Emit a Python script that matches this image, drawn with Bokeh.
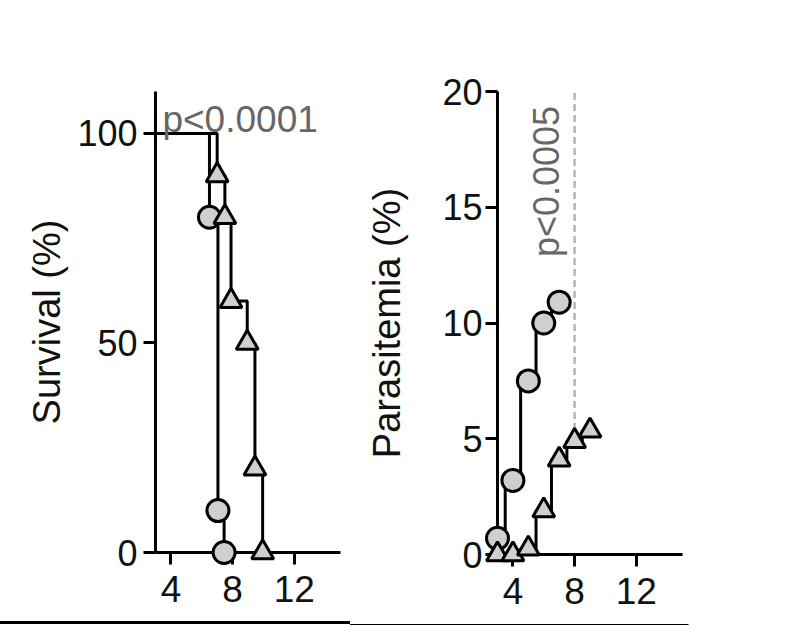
import math
from bokeh.plotting import figure
from bokeh.layouts import row
from bokeh.models import FixedTicker, Label, Range1d
from bokeh.embed import file_html
from bokeh.resources import INLINE

# ---------------- data ----------------
day_ticks = [4, 8, 12]
day_min, day_max = 3, 15
surv_ticks = [0, 50, 100]
surv_max = 110
para_ticks = [0, 5, 10, 15, 20]

surv_start_day = 0
surv_start = 100
surv_circle_days = [6.5, 7.05, 7.45]
surv_circle = [80, 10, 0]
surv_tri_days = [7.0, 7.5, 7.9, 8.95, 9.45, 9.95]
surv_tri = [90, 80, 60, 50, 20, 0]

para_circle_days = [3, 4, 5, 6, 7]
para_circle = [0.7, 3.2, 7.5, 10.0, 10.9]
para_tri_days = [3, 4, 5, 6, 7, 8, 9]
para_tri = [0.0, 0.0, 0.25, 1.9, 4.1, 4.9, 5.35]

surv_p_text = "p<0.0001"
surv_p_pos = (3.45, 103.4)
para_p_text = "p<0.0005"
para_p_pos = (6.15, 12.85)
para_p_day = 8

surv_label = "Survival (%)"
para_label = "Parasitemia (%)"

# ---------------- layout / style constants ----------------
FONT = "Liberation Sans"
FILL = "#cfcfcf"
INK = "#111111"
FRAME_W = 185
BOTTOM = 73
RULE_Y = 622.0      # page pixel row of the horizontal rule
RULE_END = 688      # page pixel where the rule ends

L_LEFT, L_RIGHT, L_TOP, L_FH = 155, 10, 91, 461
R_LEFT, R_RIGHT, R_TOP, R_FH = 147, 15, 89, 463
L_W = L_LEFT + FRAME_W + L_RIGHT
R_W = R_LEFT + FRAME_W + R_RIGHT


def style(p, ylab, yticks, y_standoff, label_standoff):
    p.xgrid.visible = False
    p.ygrid.visible = False
    p.outline_line_color = None
    for ax in p.axis:
        ax.axis_line_width = 3
        ax.axis_line_color = "black"
        ax.major_tick_line_width = 3
        ax.major_tick_line_color = "black"
        ax.major_tick_out = 12
        ax.major_tick_in = 0
        ax.minor_tick_line_color = None
        ax.major_label_text_font = FONT
        ax.major_label_text_font_size = "36px"
        ax.major_label_text_color = INK
        ax.axis_label_text_font = FONT
        ax.axis_label_text_font_size = "38px"
        ax.axis_label_text_font_style = "normal"
        ax.axis_label_text_color = INK
    p.xaxis.ticker = FixedTicker(ticks=day_ticks)
    p.xaxis.major_label_standoff = 11
    p.xaxis.major_label_text_font_size = "37px"
    p.yaxis.ticker = FixedTicker(ticks=yticks)
    p.yaxis.major_label_standoff = y_standoff
    p.yaxis.axis_label = ylab
    p.yaxis.axis_label_standoff = label_standoff


def add_rule(p, left, top, fh, y0, y1, page_x0, page_x1, nudge=0.0):
    # horizontal separator drawn below the axes (overlay level is not clipped)
    kx = FRAME_W / (day_max - day_min)
    ky = fh / (y1 - y0)
    xa = day_min + (page_x0 - left) / kx
    xb = day_min + (page_x1 - left) / kx
    yr = y0 - (RULE_Y + nudge - (top + fh)) / ky
    p.segment(x0=[xa], y0=[yr], x1=[xb], y1=[yr], line_color="black",
              line_width=3, level="overlay")


# ---------------- survival panel ----------------
pL = figure(width=L_W, height=L_TOP + L_FH + BOTTOM, frame_width=FRAME_W, frame_height=L_FH,
            min_border_left=L_LEFT, min_border_right=L_RIGHT,
            min_border_top=L_TOP, min_border_bottom=BOTTOM,
            x_range=Range1d(day_min, day_max), y_range=Range1d(0, surv_max),
            output_backend="svg", toolbar_location=None,
            background_fill_color="white", border_fill_color="white")
style(pL, surv_label, surv_ticks, 6, 6)

pL.step([surv_start_day] + surv_circle_days, [surv_start] + surv_circle,
        mode="after", line_width=3, line_color="black")
pL.step([surv_start_day] + surv_tri_days, [surv_start] + surv_tri,
        mode="after", line_width=3, line_color="black")
pL.scatter(surv_circle_days, surv_circle, marker="circle", size=22,
           fill_color=FILL, line_color="black", line_width=3, level="overlay")
pL.scatter(surv_tri_days, surv_tri, marker="triangle", size=22,
           fill_color=FILL, line_color="black", line_width=3, level="overlay")
pL.add_layout(Label(x=surv_p_pos[0], y=surv_p_pos[1], text=surv_p_text,
                    text_font=FONT, text_font_size="37px", text_color="#666666",
                    text_align="left", text_baseline="alphabetic"))
add_rule(pL, L_LEFT, L_TOP, L_FH, 0, surv_max, -2, L_W + 2)

# ---------------- parasitemia panel ----------------
pR = figure(width=R_W, height=R_TOP + R_FH + BOTTOM, frame_width=FRAME_W, frame_height=R_FH,
            min_border_left=R_LEFT, min_border_right=R_RIGHT,
            min_border_top=R_TOP, min_border_bottom=BOTTOM,
            x_range=Range1d(day_min, day_max), y_range=Range1d(para_ticks[0], para_ticks[-1]),
            output_backend="svg", toolbar_location=None,
            background_fill_color="white", border_fill_color="white")
style(pR, para_label, para_ticks, 3, 31)

p_y0 = para_tri[para_tri_days.index(para_p_day)]
pR.segment(x0=[para_p_day], y0=[p_y0], x1=[para_p_day], y1=[para_ticks[-1]],
           line_color="#b5b5b5", line_width=2.5, line_dash="7 4")
pR.step(para_circle_days, para_circle, mode="center", line_width=3, line_color="black")
pR.step(para_tri_days, para_tri, mode="center", line_width=3, line_color="black")
pR.scatter(para_circle_days, para_circle, marker="circle", size=22,
           fill_color=FILL, line_color="black", line_width=3, level="overlay")
pR.scatter(para_tri_days, para_tri, marker="triangle", size=22,
           fill_color=FILL, line_color="black", line_width=3, level="overlay")
pR.add_layout(Label(x=para_p_pos[0], y=para_p_pos[1], text=para_p_text, angle=math.pi / 2,
                    text_font=FONT, text_font_size="36px", text_color="#666666",
                    text_align="left", text_baseline="alphabetic"))
add_rule(pR, R_LEFT, R_TOP, R_FH, para_ticks[0], para_ticks[-1], -2, RULE_END - L_W, nudge=1.0)

layout = row(pL, pR)
open("out.html", "w").write(file_html(layout, INLINE))
